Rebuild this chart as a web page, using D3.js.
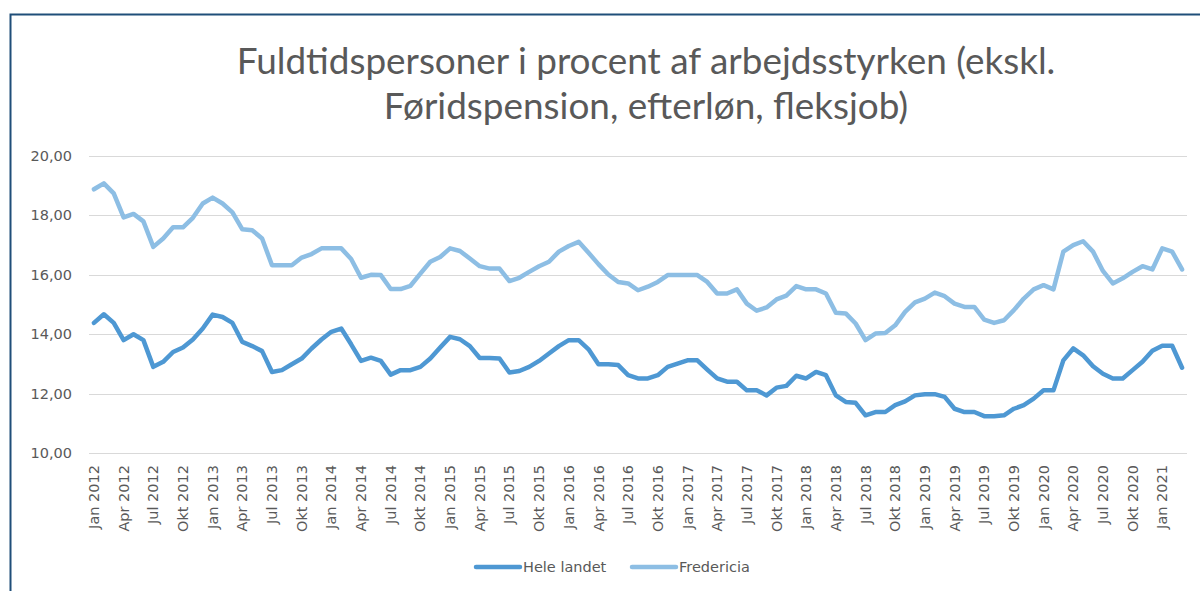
<!DOCTYPE html>
<html>
<head>
<meta charset="utf-8">
<script src="https://cdnjs.cloudflare.com/ajax/libs/d3/7.8.5/d3.min.js"></script>
<style>
  body { margin: 0; background: #fff; }
  text { font-family: "DejaVu Sans", sans-serif; fill: #595959; }
  .title { font-family: Lato, "Open Sans", sans-serif; }
</style>
</head>
<body>
<svg id="chart" width="1200" height="591"></svg>
<script>
// monthly, Jan 2012 .. Mar 2021
const monthNames = ["Jan", "Feb", "Mar", "Apr", "Maj", "Jun", "Jul", "Aug", "Sep", "Okt", "Nov", "Dec"];
const startYear = 2012;
const nMonths = 111;

const heleLandet = [
  14.38, 14.67, 14.38, 13.80, 14.00, 13.80, 12.90, 13.07, 13.40, 13.55,
  13.82, 14.19, 14.66, 14.58, 14.38, 13.74, 13.60, 13.43, 12.73, 12.79,
  12.99, 13.18, 13.52, 13.82, 14.08, 14.19, 13.66, 13.10, 13.21, 13.10,
  12.64, 12.79, 12.79, 12.90, 13.18, 13.55, 13.91, 13.83, 13.60, 13.20,
  13.20, 13.18, 12.71, 12.76, 12.90, 13.10, 13.35, 13.60, 13.80, 13.80,
  13.49, 12.99, 12.99, 12.96, 12.62, 12.51, 12.51, 12.62, 12.90, 13.01,
  13.12, 13.12, 12.81, 12.51, 12.40, 12.40, 12.11, 12.11, 11.94, 12.20,
  12.26, 12.60, 12.51, 12.73, 12.62, 11.94, 11.72, 11.69, 11.27, 11.38,
  11.38, 11.61, 11.74, 11.94, 11.98, 11.98, 11.89, 11.49, 11.38, 11.38,
  11.24, 11.24, 11.27, 11.49, 11.61, 11.83, 12.11, 12.11, 13.12, 13.52,
  13.29, 12.92, 12.67, 12.51, 12.51, 12.79, 13.07, 13.44, 13.61, 13.61,
  12.87
];

const fredericia = [
  18.88, 19.08, 18.74, 17.93, 18.05, 17.80, 16.94, 17.22, 17.60, 17.60,
  17.92, 18.40, 18.60, 18.40, 18.10, 17.53, 17.50, 17.22, 16.32, 16.32,
  16.32, 16.58, 16.70, 16.89, 16.89, 16.89, 16.53, 15.90, 16.00, 15.99,
  15.52, 15.52, 15.63, 16.04, 16.44, 16.60, 16.89, 16.80, 16.55, 16.29,
  16.21, 16.21, 15.79, 15.90, 16.10, 16.29, 16.44, 16.78, 16.97, 17.11,
  16.74, 16.36, 16.01, 15.76, 15.71, 15.48, 15.60, 15.76, 15.99, 15.99,
  15.99, 15.99, 15.76, 15.37, 15.37, 15.51, 15.03, 14.79, 14.90, 15.17,
  15.30, 15.62, 15.51, 15.51, 15.37, 14.72, 14.70, 14.36, 13.80, 14.02,
  14.04, 14.30, 14.75, 15.07, 15.20, 15.40, 15.28, 15.03, 14.92, 14.92,
  14.49, 14.38, 14.47, 14.81, 15.20, 15.51, 15.65, 15.51, 16.78, 17.00,
  17.13, 16.78, 16.13, 15.71, 15.88, 16.10, 16.29, 16.18, 16.89, 16.78,
  16.18
];

const yTicks = [10, 12, 14, 16, 18, 20];
const seriesNames = ["Hele landet", "Fredericia"];
const seriesColors = ["#4e98d3", "#8dbee4"];
const titleLines = ["Fuldtidspersoner i procent af arbejdsstyrken (ekskl.", "Føridspension, efterløn, fleksjob)"];

const months = d3.range(nMonths).map(i => monthNames[i % 12] + " " + (startYear + Math.floor(i / 12)));

const margin = {top: 156, left: 89, right: 13, bottom: 138};
const width = 1200, height = 591;

const svg = d3.select("#chart");

// frame
svg.append("path")
  .attr("d", "M10.5,591V14.5H1200")
  .attr("fill", "none")
  .attr("stroke", "#1f4e79")
  .attr("stroke-width", 2);

// title, font size fitted to the width of the first line
const titleSize = 32;
const title = svg.append("g");
titleLines.forEach((t, i) => {
  title.append("text")
    .attr("class", "title")
    .attr("x", 646)
    .attr("y", 74 + i * 45)
    .attr("text-anchor", "middle")
    .style("font-size", titleSize + "px")
    .text(t);
});
const w0 = title.select("text").node().getComputedTextLength();
title.selectAll("text").style("font-size", (titleSize * 819 / w0) + "px");

const x = d3.scaleBand()
  .domain(months)
  .range([margin.left, width - margin.right]);

const y = d3.scaleLinear()
  .domain([10, 20])
  .range([height - margin.bottom, margin.top]);

// gridlines
svg.append("g")
  .selectAll("line")
  .data(yTicks)
  .join("line")
  .attr("x1", margin.left)
  .attr("x2", width - margin.right)
  .attr("y1", d => Math.round(y(d)) + 0.5)
  .attr("y2", d => Math.round(y(d)) + 0.5)
  .attr("stroke", "#d9d9d9")
  .attr("stroke-width", 1.2);

// y labels
svg.append("g")
  .selectAll("text")
  .data(yTicks)
  .join("text")
  .attr("x", 72)
  .attr("y", d => y(d) + 5)
  .attr("text-anchor", "end")
  .style("font-size", "14.5px")
  .text(d => d3.format(".2f")(d).replace(".", ","));

// x labels every 3 months
const xAxis = d3.axisBottom(x)
  .tickValues(months.filter((m, i) => i % 3 === 0))
  .tickSize(0)
  .tickPadding(0);

const gx = svg.append("g")
  .attr("transform", "translate(0," + (height - margin.bottom) + ")")
  .call(xAxis);
gx.select(".domain").remove();
gx.selectAll("text")
  .attr("transform", "rotate(-90)")
  .attr("x", -12)
  .attr("y", 0)
  .attr("dy", "0.35em")
  .attr("text-anchor", "end")
  .style("font-family", "'DejaVu Sans', sans-serif")
  .style("font-size", "14.5px")
  .style("fill", "#595959");

// lines
const line = d3.line()
  .x((d, i) => x(months[i]) + x.bandwidth() / 2)
  .y(d => y(d));

[heleLandet, fredericia].forEach((s, k) => {
  svg.append("path")
    .datum(s)
    .attr("fill", "none")
    .attr("stroke", seriesColors[k])
    .attr("stroke-width", 4.5)
    .attr("stroke-linejoin", "round")
    .attr("stroke-linecap", "round")
    .attr("d", line);
});

// legend
const legendX = [476, 632];
const legend = svg.append("g");
seriesNames.forEach((name, k) => {
  legend.append("line")
    .attr("x1", legendX[k]).attr("x2", legendX[k] + 44)
    .attr("y1", 567).attr("y2", 567)
    .attr("stroke", seriesColors[k])
    .attr("stroke-width", 4.5)
    .attr("stroke-linecap", "round");
  legend.append("text")
    .attr("x", legendX[k] + 47)
    .attr("y", 572)
    .style("font-size", "14.5px")
    .text(name);
});
</script>
</body>
</html>
